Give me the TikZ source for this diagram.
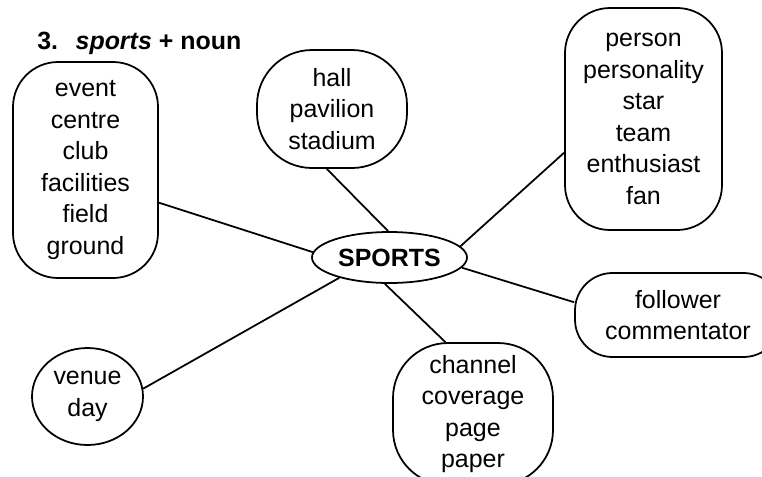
\documentclass[tikz,border=0pt]{standalone}
\usepackage{fontspec}
\setmainfont{Liberation Sans}
\usepackage{tikz}
\usetikzlibrary{shapes.geometric}

\begin{document}
\begin{tikzpicture}[
  font=\fontsize{14.2}{17.9}\selectfont,
  wordbox/.style={draw, line width=1pt, align=center, inner sep=0pt, rounded corners=0.9cm},
  wordoval/.style={draw, line width=1pt, align=center, inner sep=0pt, ellipse},
  hub/.style={wordoval, font=\fontsize{14.2}{17.9}\selectfont\bfseries},
  link/.style={line width=1pt}
]
\useasboundingbox (0,0) rectangle (15.24,-9.52);
\node[anchor=base west, inner sep=0pt, font=\fontsize{14.2}{17.9}\selectfont\bfseries] (title) at (0.74,-0.98)
  {3.\hspace{0.7em}\textit{sports} + noun};
\node[hub, minimum width=3.10cm, minimum height=1.02cm] (sports) at (7.79,-5.15) {SPORTS};
\node[wordbox, minimum width=2.90cm, minimum height=4.32cm] (place) at (1.71,-3.40)
  {event\\centre\\club\\facilities\\field\\ground};
\node[wordbox, rounded corners=1.1cm, minimum width=3.00cm, minimum height=2.36cm] (hall) at (6.64,-2.18)
  {hall\\pavilion\\stadium};
\node[wordbox, minimum width=3.14cm, minimum height=4.44cm] (people) at (12.87,-2.38)
  {person\\personality\\star\\team\\enthusiast\\fan};
\node[wordbox, rounded corners=0.75cm, minimum width=4.12cm, minimum height=1.68cm] (follow) at (13.56,-6.30)
  {follower\\commentator};
\node[wordbox, rounded corners=1.1cm, minimum width=3.20cm, minimum height=2.84cm] (media) at (9.46,-8.28)
  {channel\\coverage\\page\\paper};
\node[wordoval, minimum width=2.22cm, minimum height=1.94cm] (venue) at (1.75,-7.93)
  {venue\\day};
\draw[link] (place.-24) -- (sports.176);
\draw[link] (hall.-95) -- (sports.93);
\draw[link] (people.-157) -- (sports.9);
\draw[link] (sports.-8) -- (follow.173);
\draw[link] (sports.-100) -- (media.111);
\draw[link] (sports.-158) -- (venue.8);
\end{tikzpicture}
\end{document}
